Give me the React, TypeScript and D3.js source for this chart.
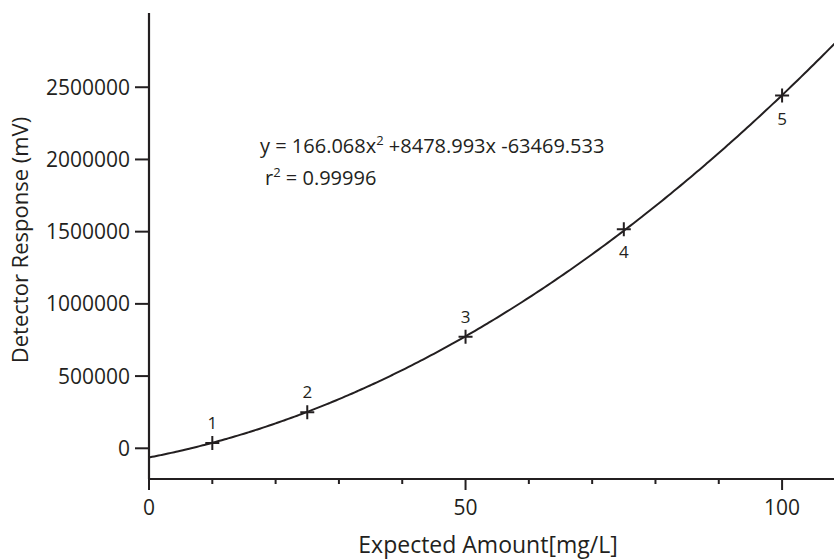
import { useEffect, useRef } from 'react';
import * as d3 from 'd3';

// calibration standards
const levels = ['1', '2', '3', '4', '5'];
const amounts = [10, 25, 50, 75, 100];
const responses = [37000, 250000, 773000, 1516000, 2442000];

// fitted quadratic: a*x^2 + b*x + c
const fitCoef = [166.068, 8478.993, -63469.533];
const rSquared = '0.99996';

const yTicks = [0, 500000, 1000000, 1500000, 2000000, 2500000];
const xMajorTicks = [0, 50, 100];
const xMinorTicks = [10, 20, 30, 40, 60, 70, 80, 90];

const App = () => {
  const chartRef = useRef<SVGSVGElement>(null);

  useEffect(() => {
    const width = 834;
    const height = 559;
    const ink = '#231f20';
    const font = "'Open Sans', sans-serif";

    const svg = d3.select(chartRef.current);
    svg.selectAll('*').remove();
    svg.attr('width', width).attr('height', height);

    const x = d3.scaleLinear().domain([0, 108.2]).range([149, width]);
    const y = d3.scaleLinear().domain([-212600, 3014000]).range([479, 13]);

    // axes
    svg.append('line')
      .attr('x1', x(0)).attr('x2', x(0))
      .attr('y1', y.range()[1]).attr('y2', y.range()[0])
      .attr('stroke', ink).attr('stroke-width', 2.2);
    svg.append('line')
      .attr('x1', x(0) - 1).attr('x2', width)
      .attr('y1', y.range()[0]).attr('y2', y.range()[0])
      .attr('stroke', ink).attr('stroke-width', 2.2);

    // y ticks
    const yt = svg.append('g');
    yt.selectAll('line').data(yTicks).enter().append('line')
      .attr('x1', x(0) - 14).attr('x2', x(0))
      .attr('y1', (d) => y(d)).attr('y2', (d) => y(d))
      .attr('stroke', ink).attr('stroke-width', 2);
    yt.selectAll('text').data(yTicks).enter().append('text')
      .attr('x', x(0) - 19).attr('y', (d) => y(d))
      .attr('dy', '0.36em')
      .attr('text-anchor', 'end')
      .attr('font-family', font).attr('font-size', 21)
      .attr('fill', ink)
      .text((d) => String(d));

    // x ticks
    const xt = svg.append('g');
    xt.selectAll('line.major').data(xMajorTicks).enter().append('line')
      .attr('class', 'major')
      .attr('x1', (d) => x(d)).attr('x2', (d) => x(d))
      .attr('y1', y.range()[0]).attr('y2', y.range()[0] + 11)
      .attr('stroke', ink).attr('stroke-width', 2);
    xt.selectAll('line.minor').data(xMinorTicks).enter().append('line')
      .attr('class', 'minor')
      .attr('x1', (d) => x(d)).attr('x2', (d) => x(d))
      .attr('y1', y.range()[0]).attr('y2', y.range()[0] + 5)
      .attr('stroke', ink).attr('stroke-width', 2);
    xt.selectAll('text').data(xMajorTicks).enter().append('text')
      .attr('x', (d) => x(d)).attr('y', 515)
      .attr('text-anchor', 'middle')
      .attr('font-family', font).attr('font-size', 21)
      .attr('fill', ink)
      .text((d) => String(d));

    // axis titles
    svg.append('text')
      .attr('x', 488).attr('y', 553)
      .attr('text-anchor', 'middle')
      .attr('font-family', font).attr('font-size', 23)
      .attr('fill', ink)
      .text('Expected Amount[mg/L]');
    svg.append('text')
      .attr('transform', 'translate(28,240) rotate(-90)')
      .attr('text-anchor', 'middle')
      .attr('font-family', font).attr('font-size', 22)
      .attr('fill', ink)
      .text('Detector Response (mV)');

    // fitted curve
    const fit = (v: number) => fitCoef[0] * v * v + fitCoef[1] * v + fitCoef[2];
    const xs = d3.range(0, x.domain()[1] + 0.5, 0.5);
    svg.append('path')
      .datum(xs)
      .attr('fill', 'none')
      .attr('stroke', ink)
      .attr('stroke-width', 2)
      .attr('d', d3.line<number>().x((d) => x(d)).y((d) => y(fit(d))).curve(d3.curveMonotoneX));

    // standards as crosses
    const pts = amounts.map((a, i) => ({ a, r: responses[i], label: levels[i], i }));
    const g = svg.append('g');
    g.selectAll('path').data(pts).enter().append('path')
      .attr('d', (d) => {
        const cx = x(d.a), cy = y(d.r);
        return `M${cx - 7},${cy}H${cx + 7}M${cx},${cy - 7}V${cy + 7}`;
      })
      .attr('stroke', ink).attr('stroke-width', 2).attr('fill', 'none');
    g.selectAll('text').data(pts).enter().append('text')
      .attr('x', (d) => x(d.a))
      .attr('y', (d) => y(d.r) + (d.i < 3 ? -14 : 29))
      .attr('text-anchor', 'middle')
      .attr('font-family', font).attr('font-size', 17)
      .attr('fill', ink)
      .text((d) => d.label);

    // equation
    const eq = svg.append('text')
      .attr('x', 260).attr('y', 153)
      .attr('font-family', font).attr('font-size', 20)
      .attr('fill', ink);
    eq.append('tspan').text(`y = ${fitCoef[0]}x`);
    eq.append('tspan').attr('dy', -8).attr('font-size', 13).text('2');
    eq.append('tspan').attr('dy', 8).text(` +${fitCoef[1]}x ${fitCoef[2]}`);

    const r2 = svg.append('text')
      .attr('x', 265).attr('y', 185)
      .attr('font-family', font).attr('font-size', 20)
      .attr('fill', ink);
    r2.append('tspan').text('r');
    r2.append('tspan').attr('dy', -8).attr('font-size', 13).text('2');
    r2.append('tspan').attr('dy', 8).text(` = ${rSquared}`);

    return () => {
      d3.select(chartRef.current).selectAll('*').remove();
    };
  }, []);

  return (
    <div style={{ position: 'absolute', left: 0, top: 0 }}>
      <svg ref={chartRef} style={{ display: 'block' }}></svg>
    </div>
  );
};

export default App;
